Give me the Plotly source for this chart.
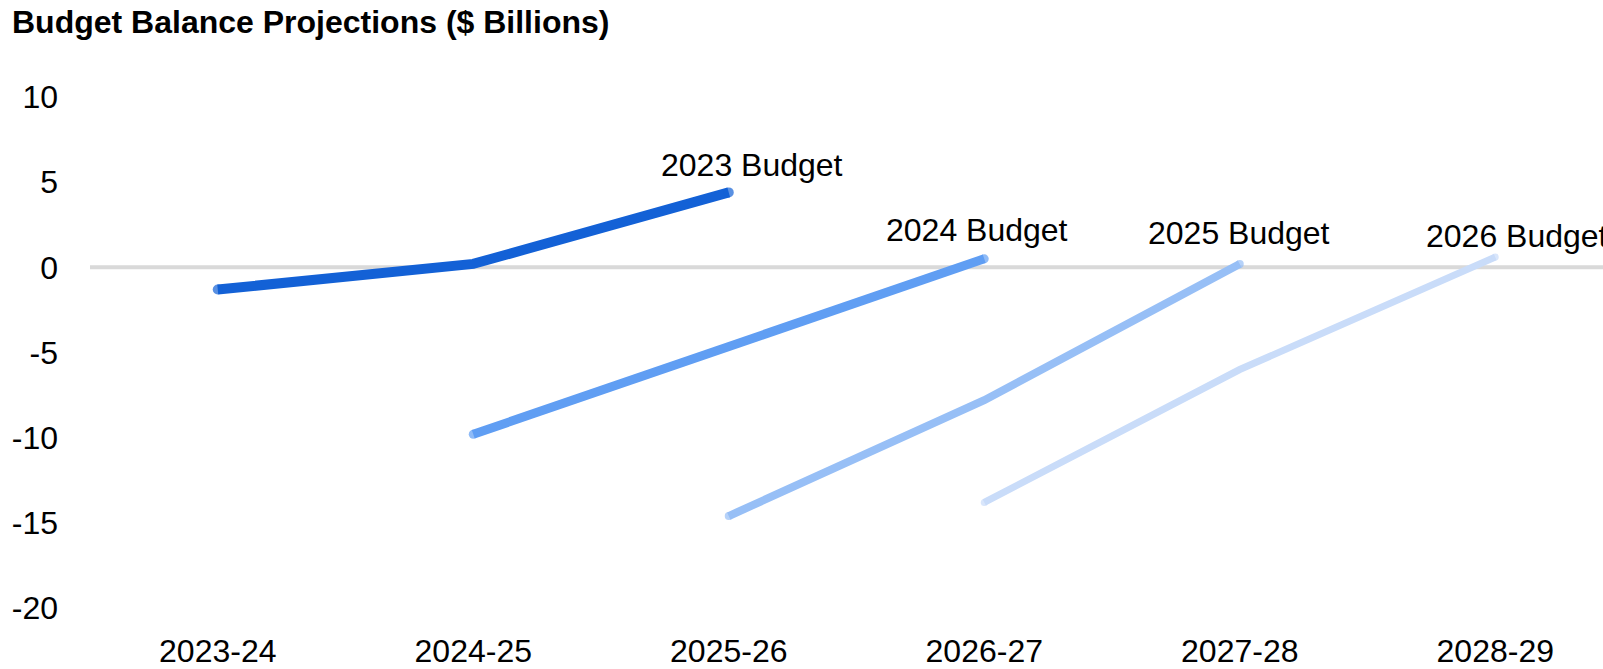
import plotly.graph_objects as go

# Fiscal years on the category axis
years = ["2023-24", "2024-25", "2025-26", "2026-27", "2027-28", "2028-29"]

# Projected budget balance ($ billions) from each budget vintage
budget_names = ["2023 Budget", "2024 Budget", "2025 Budget", "2026 Budget"]
budget_2023 = [-1.3, 0.2, 4.4]
budget_2024 = [-9.8, -4.6, 0.5]
budget_2025 = [-14.6, -7.8, 0.2]
budget_2026 = [-13.8, -6.0, 0.6]
start_index = [0, 1, 2, 3]

y_ticks = [10, 5, 0, -5, -10, -15, -20]

# Styling for each series
colors = ["#1361D6", "#609EF3", "#97BFF6", "#C9DCF9"]
widths = [10, 9, 8, 7]
label_shift_x = [23, -7, -1, 22]
label_shift_y = [27, 29, 31, 21]

FONT = "Liberation Sans, Arial, sans-serif"
W, H = 1603, 669
M_L, M_R, M_T, M_B = 90, 0, 97, 57
slot = 255.5
x_max = (W - M_L - M_R) / slot - 0.5

series = [budget_2023, budget_2024, budget_2025, budget_2026]

fig = go.Figure()
annotations = []
for name, vals, s, col, lw, dx, dy in zip(budget_names, series, start_index,
                                            colors, widths, label_shift_x, label_shift_y):
    xs = years[s:s + len(vals)]
    # round end caps: dots the width of the line at both ends
    cap_sizes = [lw if i in (0, len(vals) - 1) else 0 for i in range(len(vals))]
    fig.add_trace(go.Scatter(
        x=xs, y=vals, mode="lines+markers", name=name,
        line=dict(color=col, width=lw),
        marker=dict(color=col, size=cap_sizes, line=dict(width=0)),
        cliponaxis=False, hoverinfo="skip",
    ))
    annotations.append(dict(
        x=xs[-1], y=vals[-1], xref="x", yref="y",
        text=name, showarrow=False,
        xanchor="center", yanchor="middle",
        xshift=dx, yshift=dy,
        font=dict(family=FONT, size=32, color="#000000"),
    ))

fig.update_layout(
    width=W, height=H,
    margin=dict(l=M_L, r=M_R, t=M_T, b=M_B, pad=0),
    paper_bgcolor="white", plot_bgcolor="white",
    showlegend=False,
    title=dict(
        text="<b>Budget Balance Projections ($ Billions)</b>",
        xref="container", yref="container",
        x=12 / W, xanchor="left",
        y=1 - 22 / H, yanchor="middle",
        font=dict(family=FONT, size=32, color="#000000"),
    ),
    xaxis=dict(
        type="category", categoryorder="array", categoryarray=years,
        range=[-0.5, x_max],
        showgrid=False, zeroline=False, showline=False, ticks="",
        tickfont=dict(family=FONT, size=32, color="#000000"),
        ticklabelstandoff=21,
        fixedrange=True,
    ),
    yaxis=dict(
        range=[-20, 10],
        tickvals=y_ticks, ticktext=[str(v) for v in y_ticks],
        showgrid=False, zeroline=False, showline=False, ticks="",
        tickfont=dict(family=FONT, size=32, color="#000000"),
        ticklabelstandoff=31,
        fixedrange=True,
    ),
    annotations=annotations,
    shapes=[dict(
        type="line", xref="paper", yref="y",
        x0=0, x1=1, y0=0, y1=0,
        line=dict(color="#D9D9D9", width=4),
        layer="below",
    )],
)

fig.write_html("out.html", config={"displayModeBar": False})
